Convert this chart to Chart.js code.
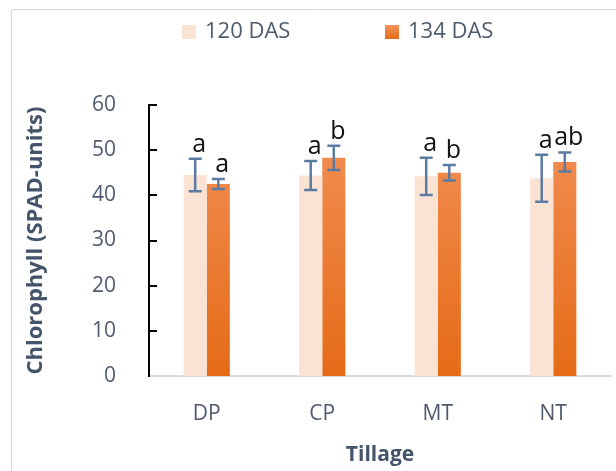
<!DOCTYPE html>
<html>
<head>
<meta charset="utf-8">
<script src="https://cdn.jsdelivr.net/npm/chart.js@4.4.1/dist/chart.umd.min.js"></script>
<style>
  html, body { margin: 0; padding: 0; background: #ffffff; }
  #wrap { width: 616px; height: 471px; position: relative; }
</style>
</head>
<body>
<div id="wrap"><canvas id="chart" width="616" height="471"></canvas></div>
<script>
// Chlorophyll content (SPAD units) by tillage system at two sampling dates
const tillage = ['DP', 'CP', 'MT', 'NT'];
const seriesNames = ['120 DAS', '134 DAS'];
const das120 = [44.5, 44.4, 44.2, 43.8];
const das134 = [42.5, 48.3, 45.0, 47.4];
const err120 = [3.6, 3.2, 4.1, 5.2];
const err134 = [1.1, 2.7, 1.7, 2.1];
const letters120 = ['a', 'a', 'a', 'a'];
const letters134 = ['a', 'b', 'b', 'ab'];
const yMin = 0, yMax = 60, yStep = 10;

const FONT = '"Open Sans", Lato, "Liberation Sans", sans-serif';
const TEXT = '#4E5B6E';
const TITLE = '#44546A';
const LIGHT = '#FBE3D3';
const ERR = '#5B7BA3';

// orange bars get a soft vertical gradient
function orangeFill(ctx) {
  const area = ctx.chart.chartArea;
  if (!area) return '#ED7D31';
  const g = ctx.chart.ctx.createLinearGradient(0, area.top, 0, area.bottom);
  g.addColorStop(0, '#F3925A');
  g.addColorStop(1, '#E56B17');
  return g;
}

const errors = [err120, err134];
const letters = [letters120, letters134];

// thin frame along the top and left edges
const framePlugin = {
  id: 'frame',
  beforeDraw(chart) {
    const c = chart.ctx;
    c.save();
    c.strokeStyle = '#D9D9D9';
    c.lineWidth = 1;
    c.beginPath();
    c.moveTo(11.5, 471);
    c.lineTo(11.5, 9.5);
    c.lineTo(616, 9.5);
    c.stroke();
    c.restore();
  }
};

// inward tick marks on the value axis
const innerTicks = {
  id: 'innerTicks',
  afterDraw(chart) {
    const y = chart.scales.y;
    const c = chart.ctx;
    const x0 = chart.chartArea.left;
    c.save();
    c.strokeStyle = '#000000';
    c.lineWidth = 2;
    y.ticks.forEach(t => {
      if (t.value === yMin) return;
      const py = Math.round(y.getPixelForValue(t.value));
      c.beginPath();
      c.moveTo(x0 - 1, py);
      c.lineTo(x0 + 8, py);
      c.stroke();
    });
    c.restore();
  }
};

// error bars and significance letters above each bar
const errorPlugin = {
  id: 'errorBars',
  afterDatasetsDraw(chart) {
    const c = chart.ctx;
    const y = chart.scales.y;
    c.save();
    chart.data.datasets.forEach((ds, di) => {
      const meta = chart.getDatasetMeta(di);
      meta.data.forEach((bar, i) => {
        const v = ds.data[i];
        const e = errors[di][i];
        const x = bar.x;
        const top = y.getPixelForValue(v + e);
        const bot = y.getPixelForValue(v - e);
        c.strokeStyle = ERR;
        c.lineWidth = 2.5;
        c.beginPath();
        c.moveTo(x, top); c.lineTo(x, bot);
        c.moveTo(x - 6.5, top); c.lineTo(x + 6.5, top);
        c.moveTo(x - 6.5, bot); c.lineTo(x + 6.5, bot);
        c.stroke();
        c.fillStyle = '#111111';
        c.font = '25px ' + FONT;
        c.textAlign = 'center';
        c.textBaseline = 'alphabetic';
        c.fillText(letters[di][i], x + 4, top - 7);
      });
    });
    c.restore();
  }
};

// legend row with square swatches
const legendPlugin = {
  id: 'swatchLegend',
  afterDraw(chart) {
    const c = chart.ctx;
    const xs = [182, 385];
    c.save();
    c.font = '22px ' + FONT;
    c.textBaseline = 'middle';
    c.textAlign = 'left';
    chart.data.datasets.forEach((ds, di) => {
      const fill = di === 0 ? LIGHT : (() => {
        const g = c.createLinearGradient(0, 25, 0, 39);
        g.addColorStop(0, '#F3925A'); g.addColorStop(1, '#E56B17');
        return g;
      })();
      c.fillStyle = fill;
      c.fillRect(xs[di], 25, 14, 14);
      c.fillStyle = TEXT;
      c.fillText(ds.label, xs[di] + 23, 32);
    });
    c.restore();
  }
};

new Chart(document.getElementById('chart'), {
  type: 'bar',
  data: {
    labels: tillage,
    datasets: [
      { label: seriesNames[0], data: das120, backgroundColor: LIGHT, borderWidth: 0 },
      { label: seriesNames[1], data: das134, backgroundColor: orangeFill, borderWidth: 0 }
    ]
  },
  options: {
    responsive: false,
    animation: false,
    devicePixelRatio: 1,
    layout: { padding: { top: 105, right: 5, left: 0, bottom: 0 } },
    datasets: { bar: { categoryPercentage: 0.4, barPercentage: 1.0 } },
    plugins: {
      legend: { display: false },
      tooltip: { enabled: false }
    },
    scales: {
      x: {
        grid: { display: false },
        border: { display: true, color: '#D6DCE5', width: 2 },
        ticks: { color: TEXT, font: { family: FONT, size: 21 }, padding: 17 },
        title: {
          display: true, text: 'Tillage', color: TITLE,
          font: { family: FONT, size: 21, weight: 'bold' },
          padding: { top: 0, bottom: 3 }
        },
        afterFit(s) { s.height = 95; }
      },
      y: {
        min: yMin, max: yMax,
        grid: { display: false },
        border: { display: true, color: '#000000', width: 2 },
        ticks: { stepSize: yStep, color: TEXT, font: { family: FONT, size: 21 }, padding: 25 },
        title: {
          display: true, text: 'Chlorophyll (SPAD-units)', color: TITLE,
          font: { family: FONT, size: 22, weight: 'bold' },
          padding: { top: 23, bottom: 0 }
        },
        afterFit(s) { s.width = 149; }
      }
    }
  },
  plugins: [framePlugin, innerTicks, errorPlugin, legendPlugin]
});
</script>
</body>
</html>
